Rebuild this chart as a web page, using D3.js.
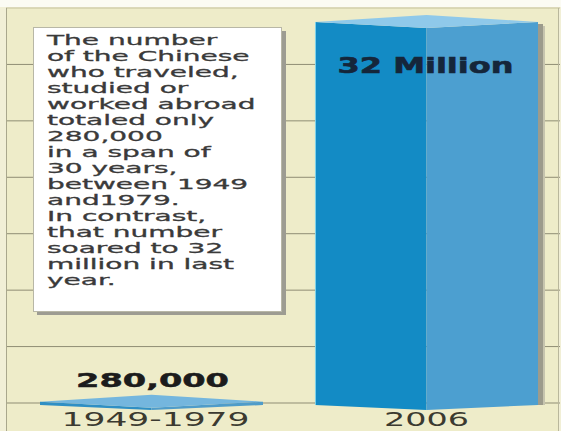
<!DOCTYPE html>
<html><head><meta charset="utf-8">
<script src="https://cdn.jsdelivr.net/npm/d3@7"></script>
<style>html,body{margin:0;padding:0;background:#fff;}svg{display:block;}</style>
</head><body>
<script>
// ---- data ----
const categories = ["1949-1979", "2006"];
const valuesMillions = [0.28, 32];
const valueLabels = ["280,000", "32 Million"];
const noteLines = ["The number", "of the Chinese", "who traveled,", "studied or", "worked abroad",
  "totaled only", "280,000", "in a span of", "30 years,", "between 1949", "and1979.",
  "In contrast,", "that number", "soared to 32", "million in last", "year."];
const gridIndex = [0, 1, 2, 3, 4, 5, 6, 7];

const W = 561, H = 431;
const svg = d3.select("body").append("svg").attr("width", W).attr("height", H);

// background
svg.append("rect").attr("width", W).attr("height", H).attr("fill", "#f1efd6");
svg.append("rect").attr("x", 0).attr("y", 0).attr("width", W).attr("height", 7).attr("fill", "#fbfbf3");
svg.append("rect").attr("x", 6).attr("y", 8).attr("width", 552).attr("height", H - 8).attr("fill", "#eeecc9");

// scales
const x = d3.scaleBand().domain(categories).range([40, 538]).paddingInner(0.189).paddingOuter(0);
const y = d3.scaleLinear().domain([0, 32]).range([405, 22]);
const grid = d3.scaleLinear().domain([0, 7]).range([403, 8]);

// gridlines
svg.append("g").selectAll("line").data(gridIndex).join("line")
  .attr("x1", 6).attr("x2", 560)
  .attr("y1", d => grid(d)).attr("y2", d => grid(d))
  .attr("stroke", d => d === 7 ? "#c4c19c" : "#8f8d74").attr("stroke-width", 1);
// frame verticals
svg.append("line").attr("x1", 6.5).attr("x2", 6.5).attr("y1", 8).attr("y2", H).attr("stroke", "#a9a78c");
svg.append("line").attr("x1", 558.5).attr("x2", 558.5).attr("y1", 8).attr("y2", H).attr("stroke", "#b9b79c");

// bars (square prisms seen from the corner)
const bars = svg.append("g");
categories.forEach((c, i) => {
  const x0 = x(c), x1 = x(c) + x.bandwidth(), xm = (x0 + x1) / 2;
  const yt = y(valuesMillions[i]), yb = y(0);
  const g = bars.append("g");
  if (i === 1) {
    g.append("rect").attr("x", x1).attr("y", yt + 2).attr("width", 5).attr("height", yb - yt - 2)
      .attr("fill", "#9c9b8c");
    g.append("rect").attr("x", x1 + 5).attr("y", yt + 4).attr("width", 2).attr("height", yb - yt - 4)
      .attr("fill", "#c6c4ae");
  }
  g.append("polygon").attr("points", [[x0, yt], [xm, yt + 6], [xm, yb + 5], [x0, yb]].join(" "))
    .attr("fill", i === 1 ? "#138bc5" : "#2f8fc4");
  g.append("polygon").attr("points", [[xm, yt + 6], [x1, yt], [x1, yb], [xm, yb + 5]].join(" "))
    .attr("fill", i === 1 ? "#4c9fd0" : "#4f9cc9");
  g.append("polygon").attr("points", [[x0, yt], [xm, yt - 7], [x1, yt], [xm, yt + 6]].join(" "))
    .attr("fill", i === 1 ? "#8fc9ea" : "#74b6de");
  if (i === 1) {
    g.append("line").attr("x1", x0 + 0.5).attr("x2", x0 + 0.5).attr("y1", yt).attr("y2", yb)
      .attr("stroke", "#7fd3ea").attr("stroke-width", 1);
  }
});

// helper: horizontally stretch a text to a target width around its anchor
function fit(sel, cx, baseline, target) {
  const w = sel.node().getComputedTextLength();
  const s = target / w;
  sel.attr("x", 0).attr("y", 0).attr("text-anchor", "middle")
    .attr("transform", `translate(${cx},${baseline}) scale(${s},1)`);
}

// value labels
const lab1 = svg.append("text").text(valueLabels[1])
  .attr("font-family", "DejaVu Sans").attr("font-weight", "bold").attr("font-size", 22)
  .attr("fill", "#15263a").attr("stroke", "#15263a").attr("stroke-width", 0.6);
fit(lab1, x(categories[1]) + x.bandwidth() / 2 - 1, 73, 176);
const lab0 = svg.append("text").text(valueLabels[0])
  .attr("font-family", "DejaVu Sans").attr("font-weight", "bold").attr("font-size", 20)
  .attr("fill", "#1c1c1c").attr("stroke", "#1c1c1c").attr("stroke-width", 0.5);
fit(lab0, x(categories[0]) + x.bandwidth() / 2 + 1, 387, 153);

// category labels
const catW = [188, 85];
categories.forEach((c, i) => {
  const t = svg.append("text").text(c)
    .attr("font-family", "DejaVu Sans").attr("font-size", 20).attr("fill", "#3b3a30");
  fit(t, x(c) + x.bandwidth() / 2 + (i === 0 ? 4 : 0), 426, catW[i]);
});

// note box
svg.append("rect").attr("x", 37).attr("y", 31).attr("width", 249).attr("height", 284).attr("fill", "#9d9c92");
svg.append("rect").attr("x", 33.5).attr("y", 27.5).attr("width", 248).attr("height", 284)
  .attr("fill", "#ffffff").attr("stroke", "#b8b7a6").attr("stroke-width", 1);
const note = svg.append("g").attr("transform", "translate(47,0) scale(2.0,1)");
note.selectAll("text").data(noteLines).join("text")
  .attr("x", 0).attr("y", (d, i) => 45 + i * 16)
  .attr("font-family", "DejaVu Sans").attr("font-size", 14).attr("fill", "#3a3a3a")
  .attr("stroke", "#3a3a3a").attr("stroke-width", 0.3)
  .text(d => d);
</script>
</body></html>
